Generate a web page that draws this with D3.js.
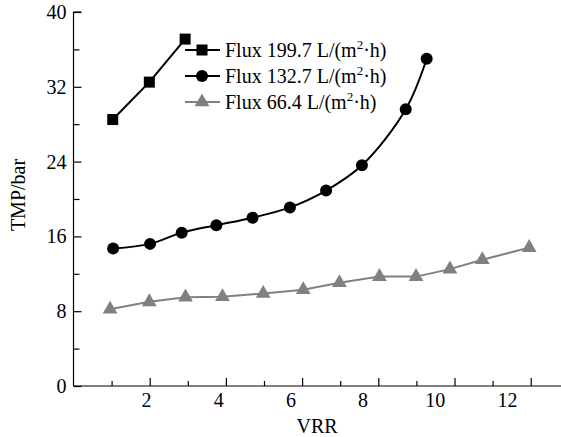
<!DOCTYPE html>
<html>
<head>
<meta charset="utf-8">
<script src="https://cdn.jsdelivr.net/npm/d3@7"></script>
<style>
  body { margin: 0; background: #fff; }
  text { font-family: "Liberation Serif", "DejaVu Serif", serif; }
</style>
</head>
<body>
<svg width="561" height="437"></svg>
<script>
// data
var vrrHigh = [1.03, 1.99, 2.93];
var tmpHigh = [28.5, 32.5, 37.1];

var vrrMid = [1.04, 2.01, 2.84, 3.75, 4.70, 5.68, 6.63, 7.57, 8.72, 9.27];
var tmpMid = [14.7, 15.2, 16.4, 17.2, 18.0, 19.1, 20.9, 23.6, 29.6, 35.0];

var vrrLow = [0.96, 1.99, 2.94, 3.91, 4.98, 6.03, 6.98, 8.03, 8.99, 9.88, 10.73, 11.96];
var tmpLow = [8.2, 9.0, 9.5, 9.55, 9.9, 10.3, 11.05, 11.7, 11.7, 12.5, 13.5, 14.8];

var seriesNames = ["Flux 199.7 L/(m", "Flux 132.7 L/(m", "Flux 66.4 L/(m"];
var xTickLabels = [2, 4, 6, 8, 10, 12];
var yTickLabels = [0, 8, 16, 24, 32, 40];

var svg = d3.select("svg");

var x = d3.scaleLinear().domain([0, 13]).range([73.5, 73.5 + 38.1 * 13]);
var xLab = d3.scaleLinear().domain([0, 12]).range([73.8, 507]);
var y = d3.scaleLinear().domain([0, 40]).range([386, 12]);

// x axis: tick marks (pointing up), then labels
svg.append("g")
    .attr("transform", "translate(0,386)")
    .call(d3.axisTop(x).tickValues(d3.range(1, 14, 2)).tickSize(5).tickFormat(""))
    .call(g => g.select(".domain").remove());
svg.append("g")
    .attr("transform", "translate(0,386)")
    .call(d3.axisTop(x).tickValues(d3.range(2, 14, 2)).tickSize(8).tickFormat(""))
    .call(g => g.select(".domain").remove());
svg.append("g")
    .attr("transform", "translate(0,386)")
    .call(d3.axisBottom(xLab).tickValues(xTickLabels).tickSize(0).tickPadding(7))
    .call(g => g.select(".domain").remove())
    .selectAll("text").attr("font-size", 20).attr("fill", "#000");
svg.append("line")
    .attr("x1", x(0)).attr("x2", 561).attr("y1", y(0)).attr("y2", y(0))
    .attr("stroke", "#000").attr("stroke-width", 1.2);

// y axis
svg.append("g")
    .attr("transform", "translate(73.5,0)")
    .call(d3.axisRight(y).tickValues(d3.range(4, 40, 8)).tickSize(6).tickFormat(""))
    .call(g => g.select(".domain").remove());
svg.append("g")
    .attr("transform", "translate(73.5,0)")
    .call(d3.axisRight(y).tickValues(yTickLabels).tickSize(8).tickFormat(""))
    .call(g => g.select(".domain").remove());
svg.append("g")
    .attr("transform", "translate(73.5,0)")
    .call(d3.axisLeft(y).tickValues(yTickLabels).tickSize(0).tickPadding(7))
    .call(g => g.select(".domain").remove())
    .selectAll("text").attr("font-size", 20).attr("fill", "#000");
svg.append("line")
    .attr("x1", 73.5).attr("x2", 73.5).attr("y1", y(0)).attr("y2", y(40))
    .attr("stroke", "#000").attr("stroke-width", 1.2);
svg.append("line")
    .attr("x1", 73.5).attr("x2", 81).attr("y1", y(40)).attr("y2", y(40))
    .attr("stroke", "#000").attr("stroke-width", 1.2);

svg.selectAll(".tick line").attr("stroke", "#000").attr("stroke-width", 1.2);

// axis titles
svg.append("text")
    .attr("x", 317).attr("y", 433)
    .attr("text-anchor", "middle").attr("font-size", 20)
    .text("VRR");
svg.append("text")
    .attr("transform", "translate(25,195) rotate(-90)")
    .attr("text-anchor", "middle").attr("font-size", 20)
    .text("TMP/bar");

function pts(xs, ys) {
    return xs.map((v, i) => ({ x: v, y: ys[i] }));
}
var high = pts(vrrHigh, tmpHigh);
var mid = pts(vrrMid, tmpMid);
var low = pts(vrrLow, tmpLow);

var lineStraight = d3.line().x(d => x(d.x)).y(d => y(d.y));
var lineSmooth = d3.line().x(d => x(d.x)).y(d => y(d.y)).curve(d3.curveCatmullRom.alpha(0.5));

var gray = "#808080";

// low flux: gray triangles
svg.append("path").attr("d", lineStraight(low))
    .attr("fill", "none").attr("stroke", gray).attr("stroke-width", 2);
var tri = d3.symbol().type(d3.symbolTriangle).size(95);
svg.selectAll("path.tri").data(low).enter().append("path")
    .attr("class", "tri")
    .attr("d", tri)
    .attr("transform", d => "translate(" + x(d.x) + "," + y(d.y) + ")")
    .attr("fill", gray);

// mid flux: black circles, smooth curve
svg.append("path").attr("d", lineSmooth(mid))
    .attr("fill", "none").attr("stroke", "#000").attr("stroke-width", 2);
svg.selectAll("circle.mid").data(mid).enter().append("circle")
    .attr("class", "mid")
    .attr("cx", d => x(d.x)).attr("cy", d => y(d.y)).attr("r", 6)
    .attr("fill", "#000");

// high flux: black squares
svg.append("path").attr("d", lineStraight(high))
    .attr("fill", "none").attr("stroke", "#000").attr("stroke-width", 2);
svg.selectAll("rect.high").data(high).enter().append("rect")
    .attr("class", "high")
    .attr("x", d => x(d.x) - 5.5).attr("y", d => y(d.y) - 5.5)
    .attr("width", 11).attr("height", 11)
    .attr("fill", "#000");

// legend
var legendRows = [
    { name: seriesNames[0], color: "#000", mark: "square" },
    { name: seriesNames[1], color: "#000", mark: "circle" },
    { name: seriesNames[2], color: gray, mark: "triangle" }
];
var leg = svg.append("g").attr("transform", "translate(185,50)");
legendRows.forEach(function (r, i) {
    var g = leg.append("g").attr("transform", "translate(0," + (i * 26) + ")");
    g.append("line").attr("x1", 0).attr("x2", 35).attr("y1", 0).attr("y2", 0)
        .attr("stroke", r.color).attr("stroke-width", 2);
    if (r.mark == "square") {
        g.append("rect").attr("x", 11.5).attr("y", -5.5).attr("width", 11).attr("height", 11).attr("fill", r.color);
    } else if (r.mark == "circle") {
        g.append("circle").attr("cx", 17).attr("cy", 0).attr("r", 6).attr("fill", r.color);
    } else {
        g.append("path").attr("d", tri).attr("transform", "translate(17,0)").attr("fill", r.color);
    }
    var t = g.append("text").attr("x", 40).attr("y", 6.5).attr("font-size", 20).attr("fill", "#000");
    t.append("tspan").text(r.name);
    t.append("tspan").attr("font-size", 13).attr("dy", -8).text("2");
    t.append("tspan").attr("dy", 8).text("\u00b7h)");
});
</script>
</body>
</html>
